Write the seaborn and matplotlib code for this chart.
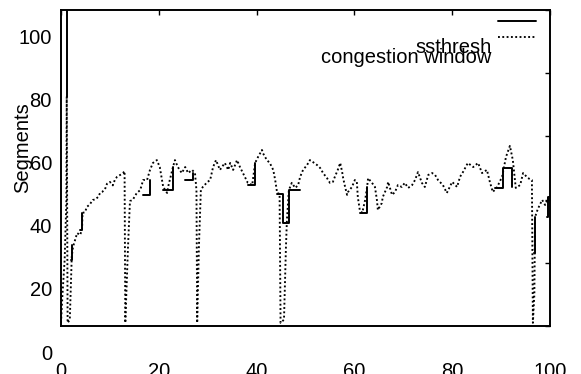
import numpy as np
import pandas as pd
import matplotlib
matplotlib.use("Agg")
import matplotlib.pyplot as plt
import matplotlib.transforms as mtransforms
import seaborn as sns

# ---- data (time in s, value in segments) ----
cwnd_t = [0.0, 0.3, 0.75, 1.1, 1.17, 1.35, 1.8, 2.2, 2.45, 3.3, 3.9, 4.3, 4.4, 4.9, 5.3, 5.9, 6.5, 6.95,
          7.57, 8.0, 8.4, 9.0, 9.4, 10.0, 10.6, 11.0, 11.45, 12.1, 12.67, 13.0,
          13.15, 13.7, 14.1, 14.7, 15.5, 16.2, 16.8, 17.6, 18.2, 18.8, 19.6, 20.2, 20.9, 21.7, 21.9,
          22.9, 23.3, 23.9, 24.7, 25.4, 26.0, 26.8, 27.4, 27.7,
          27.85, 28.2, 28.6, 29.0, 29.9, 30.5, 31.1, 31.7, 32.5, 33.5, 34.2, 34.6, 35.2, 36.0, 36.6,
          37.2, 38.2, 39.1, 39.7, 40.3, 41.1, 41.3, 42.1, 42.7, 43.4, 43.8, 44.2, 44.7,
          44.9, 45.6, 46.0, 46.2, 46.6, 47.2, 47.9, 48.5, 48.9, 49.5, 50.3, 50.9, 51.5, 52.4, 53.0,
          53.6, 54.4, 55.0, 55.6, 56.0, 56.6, 57.1, 57.5, 57.7, 58.1, 58.5, 58.7, 59.5, 60.1, 60.5,
          60.7, 61.1, 61.6, 62.2, 62.6, 62.8, 63.6, 64.2, 64.6, 64.8, 65.6, 65.8, 66.7, 66.9, 67.7,
          68.3, 68.9, 69.7, 70.3, 71.0, 71.8, 72.4, 73.0, 73.8, 74.4, 75.1, 75.9, 76.5, 77.1, 78.1,
          78.9, 80.0, 81.0, 81.6, 82.2, 83.2, 84.3, 85.3, 86.1, 87.1, 87.7, 88.3, 89.2, 90.2, 91.0,
          91.8, 92.4, 93.0, 93.9, 94.5, 95.5, 96.3,
          96.5, 96.8, 96.95, 97.5, 98.4, 99.0, 99.6, 100.0]
cwnd_v = [1, 10, 21, 40, 72.5, 1, 2, 22, 25.0, 29.4, 28.8, 30.4, 35.8, 36.0, 37.7, 38.5, 39.9, 40.0,
          40.8, 42.1, 42.4, 43.3, 45.0, 45.6, 44.5, 46.2, 47.2, 47.8, 48.4, 49.0,
          1, 25, 39.5, 40.0, 42.1, 43.0, 46.2, 46.2, 49.4, 51.6, 52.5, 50.3, 44.0, 42.1, 44.0,
          50.3, 52.5, 50.3, 48.4, 50.3, 48.4, 49.4, 48.4, 43.0,
          1, 25, 43.0, 44.0, 45.5, 46.2, 50.3, 52.5, 49.4, 51.6, 49.4, 51.6, 49.4, 52.5, 50.3,
          48.4, 45.3, 44.6, 51.6, 53.5, 55.7, 54.7, 52.5, 51.6, 49.4, 46.2, 42.1, 41.8,
          1, 2, 25, 33.5, 43.0, 45.3, 43.7, 44.6, 47.2, 49.4, 50.9, 52.5, 51.9, 50.9, 50.0,
          48.4, 46.8, 45.3, 45.6, 47.2, 49.4, 51.6, 48.7, 46.8, 44.0, 41.5, 42.4, 44.0, 46.2, 45.6,
          40.8, 36.7, 35.8, 39.9, 44.0, 46.8, 45.3, 44.0, 39.9, 36.7, 38.9, 40.8, 44.0, 45.6, 41.5,
          42.4, 44.6, 44.0, 45.3, 43.7, 44.6, 46.2, 48.7, 45.3, 44.0, 47.8, 48.4, 47.8, 46.2, 44.6,
          42.1, 45.6, 44.0, 47.2, 48.7, 51.6, 50.3, 51.6, 48.4, 49.4, 45.6, 42.4, 44.0, 47.2, 53.5,
          57.0, 52.5, 43.7, 44.6, 48.4, 46.8, 46.2,
          1, 10, 34.5, 37.0, 39.9, 38.3, 40.5, 39.5]

# ssthresh: only the stretches where it shows apart from the congestion window (seg = stretch id)
ssth_seg = [0, 0, 1, 1, 2, 2, 3, 3, 4, 4, 5, 5, 6, 6, 7, 7, 7, 7, 8, 8, 9, 9, 9, 10, 10, 11, 11, 11]
ssth_t = [1.0, 1.17, 2.0, 2.25, 3.9, 4.3, 16.8, 18.2, 20.9, 22.9, 25.4, 27.0, 38.2, 39.7,
          44.2, 45.4, 46.6, 48.9, 61.1, 62.6, 88.8, 90.4, 92.2, 96.7, 96.9, 99.4, 99.6, 100.0]
ssth_v = [300, 72.5, 21.0, 25.6, 30.4, 35.8, 41.5, 46.2, 43.0, 50.3, 46.2, 48.4, 44.6, 51.6,
          41.8, 32.6, 43.0, 43.0, 35.8, 44.0, 43.7, 50.0, 44.0, 23.1, 34.5, 34.5, 40.8, 40.8]

x_ticks = [0, 20, 40, 60, 80, 100]
y_ticks = [0, 20, 40, 60, 80, 100]
series_labels = ["ssthresh", "congestion window"]
y_label = "Segments"

sns.set_theme(style="white")
plt.rcParams["font.family"] = ["Liberation Sans", "DejaVu Sans"]

W, H = 581, 374
fig = plt.figure(figsize=(W / 100, H / 100), dpi=100)
ax = fig.add_axes([61 / W, 1 - 326 / H, 489 / W, 316 / H])

ss_df = pd.DataFrame({"t": ssth_t, "v": ssth_v, "seg": ssth_seg})
cw_df = pd.DataFrame({"t": cwnd_t, "v": cwnd_v})

n0 = len(ax.lines)
sns.lineplot(data=ss_df, x="t", y="v", units="seg", ax=ax, color="black", linewidth=1.4,
             drawstyle="steps-post", estimator=None, sort=False, legend=False)
ss_line = ax.lines[n0]
sns.lineplot(data=cw_df, x="t", y="v", ax=ax, color="black", linewidth=1.35,
             linestyle=(0, (1, 1.3)), estimator=None, sort=False, legend=False)
cw_line = ax.lines[-1]

ax.set_xlim(0, 100)
ax.set_ylim(0, 100)
ax.set_xticks(x_ticks)
ax.set_yticks(y_ticks)
ax.set_xticklabels([str(v) for v in x_ticks])
ax.set_yticklabels([str(v) for v in y_ticks])
ax.tick_params(direction="in", length=3.6, width=1.0, top=True, right=True,
               labelsize=14.5, color="black", labelcolor="black")
ax.tick_params(axis="x", pad=26)
ax.tick_params(axis="y", pad=6.5)
for sp in ax.spines.values():
    sp.set_visible(True)
    sp.set_linewidth(1.4)
    sp.set_color("black")

ax.set_xlabel("")
ax.set_ylabel(y_label, fontsize=14.5, color="black")
ax.yaxis.set_label_coords(-0.058, 0.563)

# gnuplot-like label placement: labels sit lower than their ticks
off = mtransforms.ScaledTranslation(0, -0.26, fig.dpi_scale_trans)
for lab in ax.get_yticklabels():
    lab.set_transform(lab.get_transform() + off)

leg = ax.legend(handles=[ss_line, cw_line], labels=series_labels, loc="upper right",
                bbox_to_anchor=(0.9714, 0.989), frameon=False,
                markerfirst=False, fontsize=14.5, handlelength=1.9, handletextpad=0.3,
                borderpad=0, borderaxespad=0, labelspacing=-0.18)
for t, dy in zip(leg.get_texts(), [0.25, 0.19]):
    t.set_color("black")
    t.set_transform(t.get_transform() + mtransforms.ScaledTranslation(0, -dy, fig.dpi_scale_trans))

fig.savefig("out.png", dpi=100)
